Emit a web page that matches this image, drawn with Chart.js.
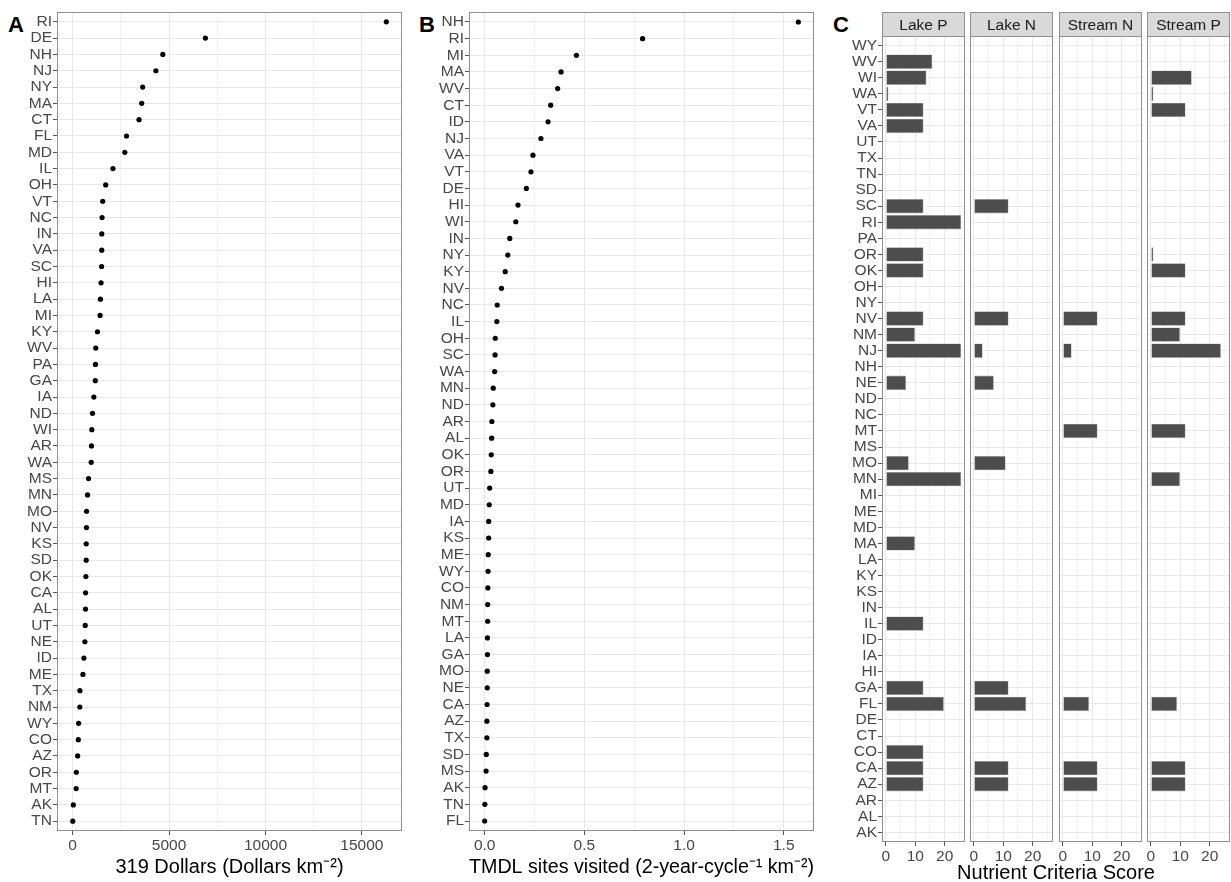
<!DOCTYPE html>
<html>
<head>
<meta charset="utf-8">
<title>State water quality metrics</title>
<script src="https://cdn.jsdelivr.net/npm/chart.js@4/dist/chart.umd.min.js"></script>
<style>
  body { margin: 0; background: #fff; width: 1231px; height: 882px; position: relative; overflow: hidden;
         font-family: "Liberation Sans", Arial, sans-serif; }
  .box { position: absolute; }
  .tag { position: absolute; font-weight: bold; font-size: 22px; line-height: 22px; color: #000; }
  #scoreTitle { position: absolute; left: 906px; width: 300px; top: 861px; text-align: center;
                font-size: 20px; line-height: 23px; color: #000; }
</style>
</head>
<body>

<div class="tag" style="left:8px;top:14px">A</div>
<div class="tag" style="left:419px;top:14px">B</div>
<div class="tag" style="left:833px;top:14px">C</div>

<div class="box" style="left:0;top:0;width:406px;height:882px"><canvas id="chartA"></canvas></div>
<div class="box" style="left:410px;top:0;width:408px;height:882px"><canvas id="chartB"></canvas></div>
<div class="box" style="left:830px;top:0;width:136px;height:882px"><canvas id="lakeP"></canvas></div>
<div class="box" style="left:969px;top:0;width:85px;height:882px"><canvas id="lakeN"></canvas></div>
<div class="box" style="left:1058px;top:0;width:85px;height:882px"><canvas id="streamN"></canvas></div>
<div class="box" style="left:1146px;top:0;width:85px;height:882px"><canvas id="streamP"></canvas></div>

<div id="scoreTitle">Nutrient Criteria Score</div>

<script>
// Panel A - 319 dollars per km2
const statesA = ['RI','DE','NH','NJ','NY','MA','CT','FL','MD','IL','OH','VT','NC','IN','VA','SC','HI','LA','MI','KY',
  'WV','PA','GA','IA','ND','WI','AR','WA','MS','MN','MO','NV','KS','SD','OK','CA','AL','UT','NE','ID',
  'ME','TX','NM','WY','CO','AZ','OR','MT','AK','TN'];
const dollars = [16265, 6883, 4674, 4315, 3630, 3578, 3441, 2791, 2705, 2089, 1712, 1558, 1524, 1510, 1507, 1500, 1472, 1438, 1421, 1284,
  1198, 1181, 1175, 1096, 1027, 993, 976, 959, 822, 770, 719, 715, 702, 700, 685, 668, 665, 650, 633, 582,
  531, 377, 370, 308, 291, 257, 188, 180, 34, 5];
const dollarTicks = [0, 2500, 5000, 7500, 10000, 12500, 15000];
const dollarLabels = ['0', '', '5000', '', '10000', '', '15000'];

// Panel B - TMDL sites visited
const statesB = ['NH','RI','MI','MA','WV','CT','ID','NJ','VA','VT','DE','HI','WI','IN','NY','KY','NV','NC','IL','OH',
  'SC','WA','MN','ND','AR','AL','OK','OR','UT','MD','IA','KS','ME','WY','CO','NM','MT','LA','GA','MO',
  'NE','CA','AZ','TX','SD','MS','AK','TN','FL'];
const tmdl = [1.573, 0.792, 0.460, 0.383, 0.366, 0.331, 0.318, 0.282, 0.242, 0.232, 0.209, 0.167, 0.156, 0.126, 0.116, 0.103, 0.084, 0.063, 0.061, 0.053,
  0.052, 0.050, 0.043, 0.041, 0.036, 0.035, 0.033, 0.031, 0.025, 0.023, 0.020, 0.020, 0.018, 0.017, 0.016, 0.015, 0.015, 0.014, 0.014, 0.013,
  0.013, 0.012, 0.011, 0.011, 0.008, 0.007, 0.002, 0.001, 0.000];
const tmdlTicks = [0, 0.25, 0.5, 0.75, 1, 1.25, 1.5];
const tmdlLabels = ['0.0', '', '0.5', '', '1.0', '', '1.5'];

// Panel C - nutrient criteria score (_ = no bar)
const _ = null;
const statesC = ['WY','WV','WI','WA','VT','VA','UT','TX','TN','SD','SC','RI','PA','OR','OK','OH','NY','NV','NM','NJ',
  'NH','NE','ND','NC','MT','MS','MO','MN','MI','ME','MD','MA','LA','KY','KS','IN','IL','ID','IA','HI',
  'GA','FL','DE','CT','CO','CA','AZ','AR','AL','AK'];
const lakeP   = [_, 15.8, 13.8, 0.9, 12.8, 12.8, _, _, _, _, 12.8, 25.6, _, 12.8, 12.8, _, _, 12.8, 9.9, 25.6,
  _, 6.9, _, _, _, _, 7.8, 25.6, _, _, _, 9.9, _, _, _, _, 12.8, _, _, _,
  12.8, 19.7, _, _, 12.8, 12.8, 12.8, _, _, _];
const lakeN   = [_, _, _, _, _, _, _, _, _, _, 11.8, _, _, _, _, _, _, 11.8, _, 3.0,
  _, 6.8, _, _, _, _, 10.8, _, _, _, _, _, _, _, _, _, _, _, _, _,
  11.8, 17.8, _, _, _, 11.8, 11.8, _, _, _];
const streamN = [_, _, _, _, _, _, _, _, _, _, _, _, _, _, _, _, _, 11.8, _, 3.0,
  _, _, _, _, 11.8, _, _, _, _, _, _, _, _, _, _, _, _, _, _, _,
  _, 8.9, _, _, _, 11.8, 11.8, _, _, _];
const streamP = [_, _, 13.9, 0.9, 11.8, _, _, _, _, _, _, _, _, 0.9, 11.8, _, _, 11.8, 9.9, 23.8,
  _, _, _, _, 11.8, _, _, 9.9, _, _, _, _, _, _, _, _, _, _, _, _,
  _, 8.9, _, _, _, 11.8, 11.8, _, _, _];
const scoreTicks = [0, 5, 10, 15, 20, 25];
const scoreLabels = ['0', '', '10', '', '20', ''];

Chart.defaults.font.family = '"Liberation Sans", Arial, sans-serif';
Chart.defaults.devicePixelRatio = 1;

const textGrey = '#474747';
const tickGrey = '#555';
const gridMajor = '#e8e8e8';
const gridMinor = '#f3f3f3';
const frame = '#8f8f8f';

// panel border + optional facet strip
const panelBox = {
  id: 'panelBox',
  afterDraw(chart, args, opts) {
    const { ctx, chartArea: a } = chart;
    const l = Math.round(a.left) + 0.5, r = Math.round(a.right) - 0.5;
    const t = Math.round(a.top) + 0.5, b = Math.round(a.bottom) - 0.5;
    ctx.save();
    ctx.strokeStyle = frame;
    ctx.lineWidth = 1;
    ctx.strokeRect(l, t, r - l, b - t);
    if (opts.strip) {
      const st = opts.stripTop + 0.5;
      ctx.fillStyle = '#d9d9d9';
      ctx.fillRect(l, st, r - l, t - st);
      ctx.strokeRect(l, st, r - l, t - st);
      ctx.fillStyle = '#1a1a1a';
      ctx.font = '15.5px "Liberation Sans", Arial, sans-serif';
      ctx.textAlign = 'center';
      ctx.textBaseline = 'middle';
      ctx.fillText(opts.strip, (l + r) / 2, (st + t) / 2 + 1);
    }
    ctx.restore();
  }
};

function xScale(ticks, labels, min, max, height, title) {
  const major = i => labels[i] !== '';
  return {
    type: 'linear', min, max,
    afterBuildTicks: s => { s.ticks = ticks.map(v => ({ value: v })); },
    afterFit: s => { s.height = height; s.paddingLeft = 0; s.paddingRight = 0; },
    border: { display: false },
    grid: {
      color: c => major(c.index) ? gridMajor : gridMinor,
      lineWidth: 1,
      tickColor: c => major(c.index) ? tickGrey : 'rgba(0,0,0,0)',
      tickLength: 4
    },
    ticks: { autoSkip: false, maxRotation: 0, padding: 1, color: textGrey, font: { size: 15.5 },
             callback: (v, i) => labels[i] },
    title: title
      ? { display: true, text: title, color: '#000', font: { size: 20 }, padding: { top: 0, bottom: 3 } }
      : { display: false }
  };
}

function yScale(labels, width, showLabels) {
  return {
    type: 'linear', reverse: true, offset: false, min: -0.6, max: labels.length - 0.4,
    afterBuildTicks: s => { s.ticks = labels.map((l, i) => ({ value: i })); },
    afterFit: s => { s.width = width; s.paddingTop = 0; s.paddingBottom = 0; },
    border: { display: false },
    grid: { offset: false, color: gridMajor, lineWidth: 1, tickColor: tickGrey, tickLength: 4, drawTicks: showLabels },
    ticks: { display: showLabels, autoSkip: false, padding: 1, color: textGrey, font: { size: 15.5 },
             callback: (v, i) => labels[i] }
  };
}

function dotPanel(id, labels, values, ticks, tickLabels, yWidth, title) {
  const pad = Math.max(...values) * 0.05;
  new Chart(document.getElementById(id), {
    type: 'scatter',
    data: { datasets: [{ data: values.map((v, i) => ({ x: v, y: i })),
                         pointRadius: 2.6, backgroundColor: '#000', borderWidth: 0 }] },
    options: {
      animation: false, responsive: true, maintainAspectRatio: false,
      layout: { padding: { top: 12, right: 1 } },
      plugins: { legend: { display: false }, tooltip: { enabled: false }, panelBox: {} },
      scales: {
        x: xScale(ticks, tickLabels, -pad, Math.max(...values) + pad, 882 - 831, title),
        y: yScale(labels, yWidth, true)
      }
    },
    plugins: [panelBox]
  });
}

dotPanel('chartA', statesA, dollars, dollarTicks, dollarLabels, 57, '319 Dollars (Dollars km\u207B\u00B2)');
dotPanel('chartB', statesB, tmdl, tmdlTicks, tmdlLabels, 59, 'TMDL sites visited (2-year-cycle\u207B\u00B9 km\u207B\u00B2)');

// facets share one x range
const allScores = [...lakeP, ...lakeN, ...streamN, ...streamP].filter(v => v !== null);
const scoreMax = Math.max(...allScores);
const scorePad = scoreMax * 0.05;

function facet(id, name, values, yWidth, padLeft) {
  new Chart(document.getElementById(id), {
    type: 'bar',
    data: { datasets: [{
      data: values.map((v, i) => ({ x: v, y: i })).filter(d => d.x !== null),
      backgroundColor: '#4d4d4d', borderColor: '#a8a8a8', borderWidth: 0.6, borderSkipped: false,
      barPercentage: 0.9, categoryPercentage: 1
    }] },
    options: {
      indexAxis: 'y',
      animation: false, responsive: true, maintainAspectRatio: false,
      layout: { padding: { top: 36, right: 1, left: padLeft } },
      plugins: { legend: { display: false }, tooltip: { enabled: false },
                 panelBox: { strip: name, stripTop: 12 } },
      scales: {
        x: xScale(scoreTicks, scoreLabels, -scorePad, scoreMax + scorePad, 882 - 842, null),
        y: yScale(statesC, yWidth, yWidth > 0)
      }
    },
    plugins: [panelBox]
  });
}

facet('lakeP', 'Lake P', lakeP, 52, 0);
facet('lakeN', 'Lake N', lakeN, 0, 1);
facet('streamN', 'Stream N', streamN, 0, 1);
facet('streamP', 'Stream P', streamP, 0, 1);
</script>
</body>
</html>
